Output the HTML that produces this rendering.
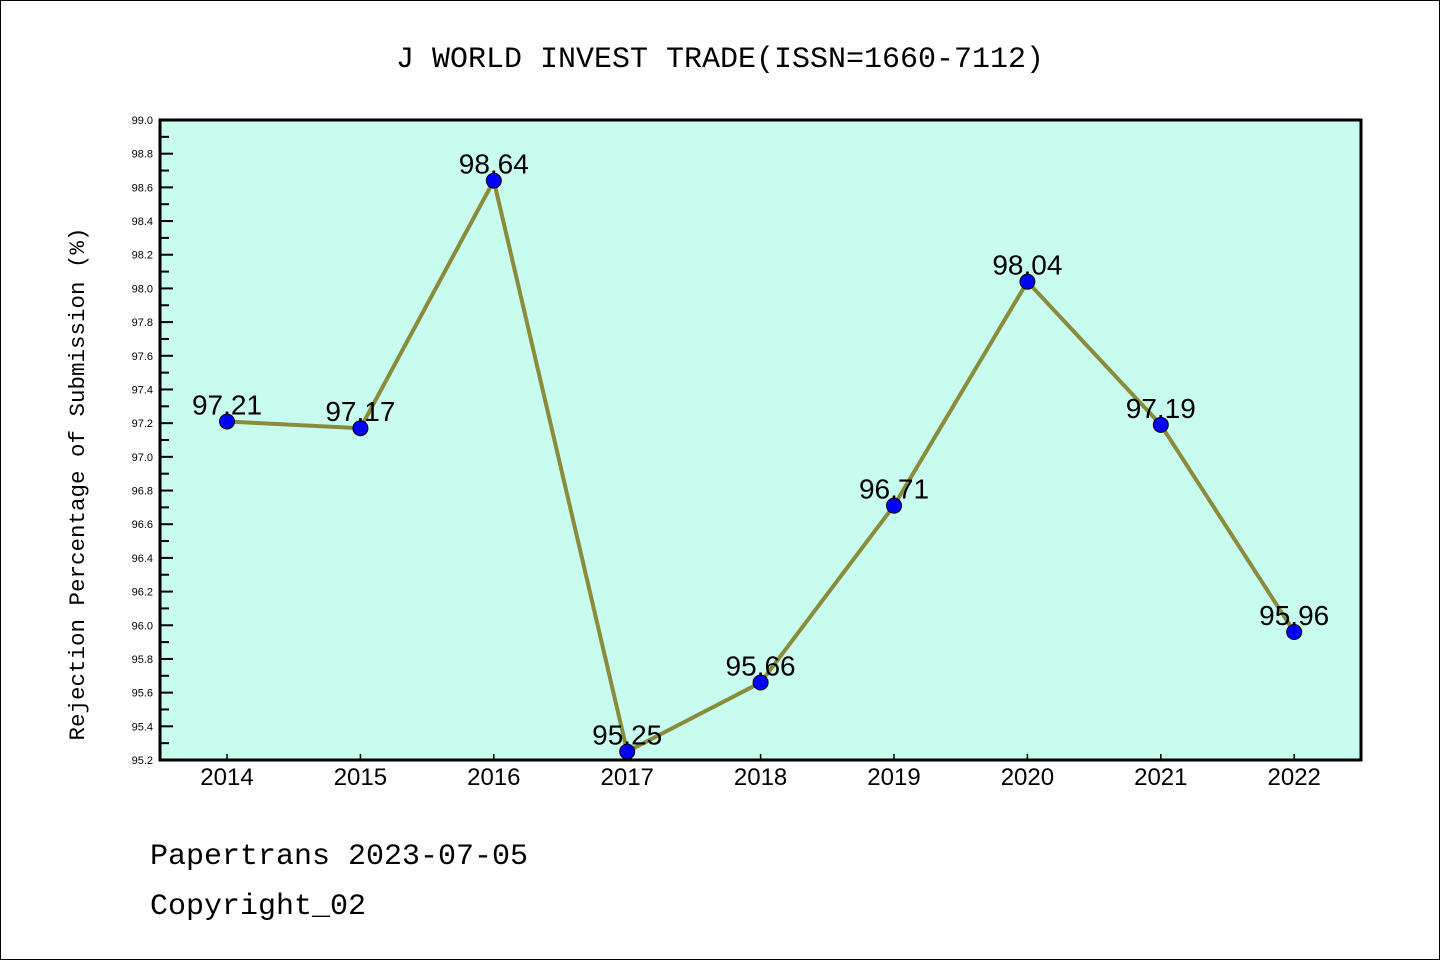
<!DOCTYPE html>
<html><head><meta charset="utf-8"><style>
body{margin:0;background:#fff}
</style></head><body>
<svg width="1440" height="960" xmlns="http://www.w3.org/2000/svg" font-family="'Liberation Sans',sans-serif">
<rect x="0.5" y="0.5" width="1439" height="959" fill="#fff" stroke="#000" stroke-width="1"/>
<text x="720" y="67" font-size="30" text-anchor="middle" font-family="'Liberation Mono',monospace">J WORLD INVEST TRADE(ISSN=1660-7112)</text>
<rect x="160" y="120" width="1201" height="640" fill="#c8fcee"/>
<g id="axes"></g>
<g id="series"></g>
<rect x="160" y="120" width="1201" height="640" fill="none" stroke="#000" stroke-width="3"/>
<text transform="translate(84,484) rotate(-90)" font-size="22.5" text-anchor="middle" font-family="'Liberation Mono',monospace">Rejection Percentage of Submission (%)</text>
<text x="150" y="864" font-size="30" font-family="'Liberation Mono',monospace">Papertrans 2023-07-05</text>
<text x="150" y="914" font-size="30" font-family="'Liberation Mono',monospace">Copyright_02</text>
</svg>
<script>
const years=["2014","2015","2016","2017","2018","2019","2020","2021","2022"];
const values=[97.21,97.17,98.64,95.25,95.66,96.71,98.04,97.19,95.96];
const yTicks=[95.2,95.4,95.6,95.8,96.0,96.2,96.4,96.6,96.8,97.0,97.2,97.4,97.6,97.8,98.0,98.2,98.4,98.6,98.8,99.0];
const NS="http://www.w3.org/2000/svg";
const yMin=95.2,yMax=99.0,plotTop=120,plotBot=760;
function yScale(v){return plotBot-(v-yMin)/(yMax-yMin)*(plotBot-plotTop);}
function xScale(i){return 227+i*133.4;}
function mk(t,a,p){const e=document.createElementNS(NS,t);for(const k in a)e.setAttribute(k,a[k]);p.appendChild(e);return e;}
const ax=document.getElementById('axes'),se=document.getElementById('series');
yTicks.forEach((v,i)=>{
 const l=mk('line',{x1:160,x2:173,y1:yScale(v),y2:yScale(v),stroke:'#000','stroke-width':2},ax);
 
 
 if(i<yTicks.length-1){const m=mk('line',{x1:160,x2:169,y1:yScale(v+0.1),y2:yScale(v+0.1),stroke:'#000','stroke-width':2},ax);
 
 }
 const t=mk('text',{x:153,y:yScale(v)+4,'font-size':11,'text-anchor':'end'},ax);t.textContent=v.toFixed(1);
 
 
});
years.forEach((yr,i)=>{
 const l=mk('line',{x1:xScale(i),x2:xScale(i),y1:760,y2:754,stroke:'#000','stroke-width':1.5},ax);
 
 
 const t=mk('text',{x:xScale(i),y:785,'font-size':24,'text-anchor':'middle'},ax);t.textContent=yr;
 
 
});
const pl=mk('polyline',{points:values.map((v,i)=>xScale(i)+','+yScale(v)).join(' '),fill:'none',stroke:'#8b8b3c','stroke-width':4},se);


values.forEach((v,i)=>{
 const c=mk('circle',{cx:xScale(i),cy:yScale(v),r:7.5,fill:'#0000ff',stroke:'#000','stroke-width':1},se);
 
 
 const t=mk('text',{x:xScale(i),y:yScale(v)-7,'font-size':28,'text-anchor':'middle'},se);t.textContent=v.toFixed(2);
 
 
});
</script>
</body></html>
